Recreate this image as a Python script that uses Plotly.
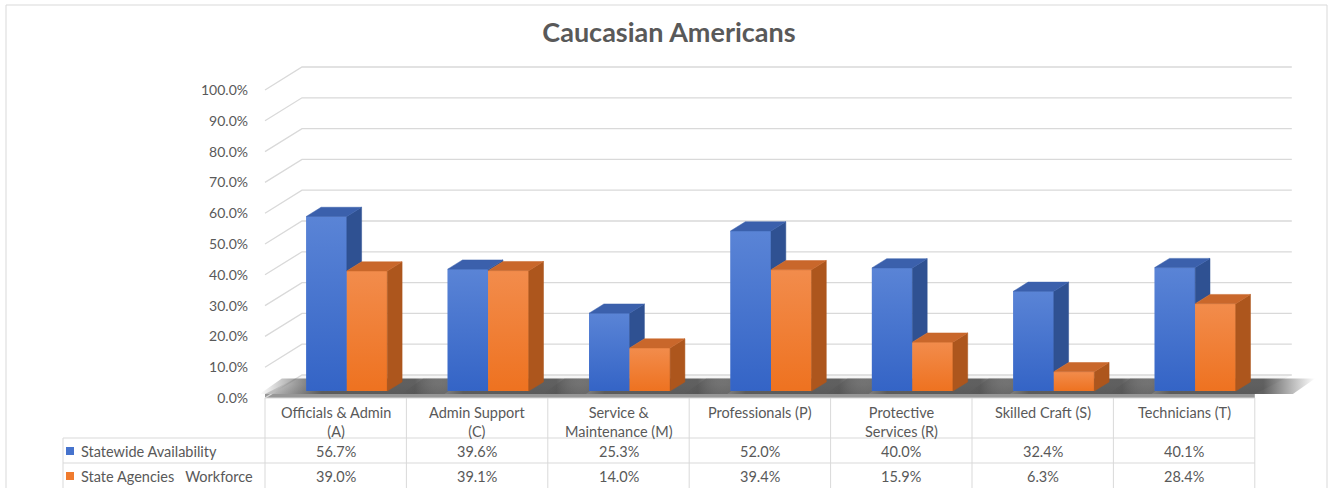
import plotly.graph_objects as go

# ---------------- data ----------------
title_text = "Caucasian Americans"
categories = ["Officials & Admin<br>(A)", "Admin Support<br>(C)", "Service &<br>Maintenance (M)",
              "Professionals (P)", "Protective<br>Services (R)", "Skilled Craft (S)", "Technicians (T)"]
series_names = ["Statewide Availability", "State Agencies  Workforce"]
statewide = [56.7, 39.6, 25.3, 52.0, 40.0, 32.4, 40.1]
workforce = [39.0, 39.1, 14.0, 39.4, 15.9, 6.3, 28.4]
y_ticks = [0, 10, 20, 30, 40, 50, 60, 70, 80, 90, 100]

# ---------------- geometry / style ----------------
W, H = 1330, 488
PX = 141.4          # pixels per category
PY = 3.08           # pixels per percent point
X0, Y0 = 265, 398   # pixel of the front-left floor corner


def dx(px):
    return (px - X0) / PX


def dy(py):
    return (Y0 - py) / PY


XR = [dx(0), dx(W)]
YR = [dy(H), dy(0)]
DEPTH_X = 37 / PX
DEPTH_Y = 23 / PY
BAR_FRONT, BAR_BACK = 0.30, 0.70
BAR_W = 40.5 / PX
n = len(categories)

FONT = "Lato, 'Open Sans', sans-serif"
TXT = "#595959"
GRID = "#d9d9d9"
TABLE_FS = 14.5
BLUE, BLUE_SIDE, BLUE_TOP = "#4673CD", "#2F5192", "#3B60AC"
ORANGE, ORANGE_SIDE, ORANGE_TOP = "#F07B2E", "#AD561D", "#C9672B"
BLUE_GRAD = [[0, "#3464C6"], [1, "#5A84D6"]]
ORANGE_GRAD = [[0, "#EE7220"], [1, "#F28C4C"]]

sx, sy = BAR_FRONT * DEPTH_X, BAR_FRONT * DEPTH_Y
ddx, ddy = (BAR_BACK - BAR_FRONT) * DEPTH_X, (BAR_BACK - BAR_FRONT) * DEPTH_Y
blue_left = [i + 0.5 - BAR_W + sx for i in range(n)]
orange_left = [i + 0.5 + sx for i in range(n)]

fig = go.Figure()

# ---------------- floor (base axes, below bars) ----------------
floor_top = dy(394)
fig.add_trace(go.Scatter(
    x=[0, n, n + DEPTH_X, DEPTH_X, 0], y=[floor_top, floor_top, DEPTH_Y, DEPTH_Y, floor_top],
    fill="toself", mode="lines", line=dict(width=0), hoverinfo="skip", showlegend=False,
    fillgradient=dict(type="vertical", colorscale=[[0, "#cdcdcd"], [0.5, "#efefef"], [1, "#f8f8f8"]])))
fig.add_trace(go.Scatter(
    x=[0, n, n, 0, 0], y=[0, 0, floor_top, floor_top, 0],
    fill="toself", fillcolor="#979797", line=dict(width=0), mode="lines",
    hoverinfo="skip", showlegend=False))

# back wall gridlines
gx, gy = [], []
for t in y_ticks:
    gx += [0, DEPTH_X, n + DEPTH_X, None]
    gy += [t, t + DEPTH_Y, t + DEPTH_Y, None]
fig.add_trace(go.Scatter(x=gx, y=gy, mode="lines", line=dict(color=GRID, width=1.3),
                         hoverinfo="skip", showlegend=False))

# soft shadows around each bar group
for i in range(n):
    xl = blue_left[i] - 0.33
    xr = orange_left[i] + BAR_W + ddx + 0.30
    yb = 0.85 * DEPTH_Y
    fig.add_trace(go.Scatter(
        x=[xl, xr, xr + 0.6 * DEPTH_X, xl + 0.6 * DEPTH_X, xl],
        y=[floor_top, floor_top, yb, yb, floor_top],
        fill="toself", mode="lines", line=dict(width=0), hoverinfo="skip", showlegend=False,
        fillgradient=dict(type="horizontal", colorscale=[
            [0, "rgba(70,70,70,0)"], [0.3, "rgba(70,70,70,0.85)"],
            [0.75, "rgba(70,70,70,0.85)"], [1, "rgba(70,70,70,0)"]])))

# ---------------- bars (overlay axes) ----------------
fig.add_trace(go.Bar(x=[b + BAR_W / 2 for b in blue_left], y=statewide, base=sy, width=BAR_W,
                     marker=dict(color=BLUE, line=dict(width=0)), name=series_names[0],
                     xaxis="x2", yaxis="y2", showlegend=False))
fig.add_trace(go.Bar(x=[b + BAR_W / 2 for b in orange_left], y=workforce, base=sy, width=BAR_W,
                     marker=dict(color=ORANGE, line=dict(width=0)), name=series_names[1],
                     xaxis="x2", yaxis="y2", showlegend=False))


def faces(lefts, vals, lows):
    sxs, sys_, txs, tys = [], [], [], []
    for xl, v, lo in zip(lefts, vals, lows):
        xr = xl + BAR_W
        top = v + sy
        if v > lo:
            b = lo + sy
            sxs += [xr, xr, xr + ddx, xr + ddx, xr, None]
            sys_ += [b, top, top + ddy, b + ddy, b, None]
        txs += [xl, xr, xr + ddx, xl + ddx, xl, None]
        tys += [top, top, top + ddy, top + ddy, top, None]
    return sxs, sys_, txs, tys


# shaded front faces (same rectangles as the bars, with a soft vertical gradient)
for lefts, vals, grad in ((blue_left, statewide, BLUE_GRAD), (orange_left, workforce, ORANGE_GRAD)):
    for xl, v in zip(lefts, vals):
        fig.add_trace(go.Scatter(
            x=[xl, xl + BAR_W, xl + BAR_W, xl, xl], y=[sy, sy, v + sy, v + sy, sy],
            fill="toself", mode="lines", line=dict(width=0), xaxis="x2", yaxis="y2",
            hoverinfo="skip", showlegend=False,
            fillgradient=dict(type="vertical", colorscale=grad)))

# blue: side only visible above the orange bar next to it
bsx, bsy, btx, bty = faces(blue_left, statewide, workforce)
osx, osy, otx, oty = faces(orange_left, workforce, [0] * n)
for fx, fy, col in [(bsx, bsy, BLUE_SIDE), (btx, bty, BLUE_TOP), (osx, osy, ORANGE_SIDE), (otx, oty, ORANGE_TOP)]:
    fig.add_trace(go.Scatter(x=fx, y=fy, fill="toself", fillcolor=col, mode="lines",
                             line=dict(width=0.5, color=col), xaxis="x2", yaxis="y2",
                             hoverinfo="skip", showlegend=False))

# ---------------- data table ----------------
shapes = []
LC = dx(63)
for i in range(n + 1):
    shapes.append(dict(type="line", xref="x", yref="y", x0=i, x1=i, y0=dy(398), y1=dy(490),
                       line=dict(color=GRID, width=1)))
shapes.append(dict(type="line", xref="x", yref="y", x0=LC, x1=LC, y0=dy(438), y1=dy(490),
                   line=dict(color=GRID, width=1)))
shapes.append(dict(type="line", xref="x", yref="y", x0=0, x1=n, y0=dy(398), y1=dy(398),
                   line=dict(color=GRID, width=1)))
for py in (438, 463):
    shapes.append(dict(type="line", xref="x", yref="y", x0=LC, x1=n, y0=dy(py), y1=dy(py),
                       line=dict(color=GRID, width=1)))
# legend keys
for py, col in ((451, BLUE), (476, ORANGE)):
    shapes.append(dict(type="rect", xref="x", yref="y", x0=dx(66), x1=dx(74), y0=dy(py + 4), y1=dy(py - 4),
                       fillcolor=col, line=dict(width=0)))
# chart border
shapes.append(dict(type="rect", xref="paper", yref="paper", x0=6 / W, x1=1327 / W, y0=-0.2, y1=1 - 5 / H,
                   line=dict(color=GRID, width=1)))

annotations = []
for i, c in enumerate(categories):
    annotations.append(dict(x=i + 0.5, y=dy(402), xref="x", yref="y", text=c, showarrow=False,
                            xanchor="center", yanchor="top",
                            font=dict(family=FONT, size=TABLE_FS, color=TXT)))
for row_vals, py in ((statewide, 451), (workforce, 476)):
    for i, v in enumerate(row_vals):
        annotations.append(dict(x=i + 0.5, y=dy(py), xref="x", yref="y", text=f"{v:.1f}%",
                                showarrow=False, xanchor="center", yanchor="middle",
                                font=dict(family=FONT, size=TABLE_FS, color=TXT)))
for name, py in zip(series_names, (451, 476)):
    annotations.append(dict(x=dx(79), y=dy(py), xref="x", yref="y", text=name.replace("  ", "&nbsp;&nbsp; "),
                            showarrow=False, xanchor="left", yanchor="middle",
                            font=dict(family=FONT, size=14.5, color=TXT)))

fig.update_layout(
    width=W, height=H, autosize=False,
    margin=dict(l=0, r=0, t=0, b=0, pad=0),
    paper_bgcolor="white", plot_bgcolor="rgba(0,0,0,0)",
    barmode="overlay",
    title=dict(text=f"<b>{title_text}</b>", x=669 / W, xanchor="center", y=1 - 33 / H, yanchor="middle",
               font=dict(family=FONT, size=27, color=TXT)),
    xaxis=dict(range=XR, visible=False, fixedrange=True),
    yaxis=dict(range=YR, anchor="free", position=248 / W, side="left", showgrid=False, zeroline=False,
               showline=False, ticks="", tickvals=y_ticks, ticktext=[f"{t:.1f}%" for t in y_ticks],
               tickfont=dict(family=FONT, size=14, color=TXT), fixedrange=True),
    xaxis2=dict(range=XR, overlaying="x", visible=False, fixedrange=True),
    yaxis2=dict(range=YR, overlaying="y", visible=False, fixedrange=True),
    shapes=shapes, annotations=annotations,
    showlegend=False,
)

fig.write_html("out.html", config={"displayModeBar": False},
               post_script="document.body.style.margin='0px';document.body.style.overflow='hidden';")
